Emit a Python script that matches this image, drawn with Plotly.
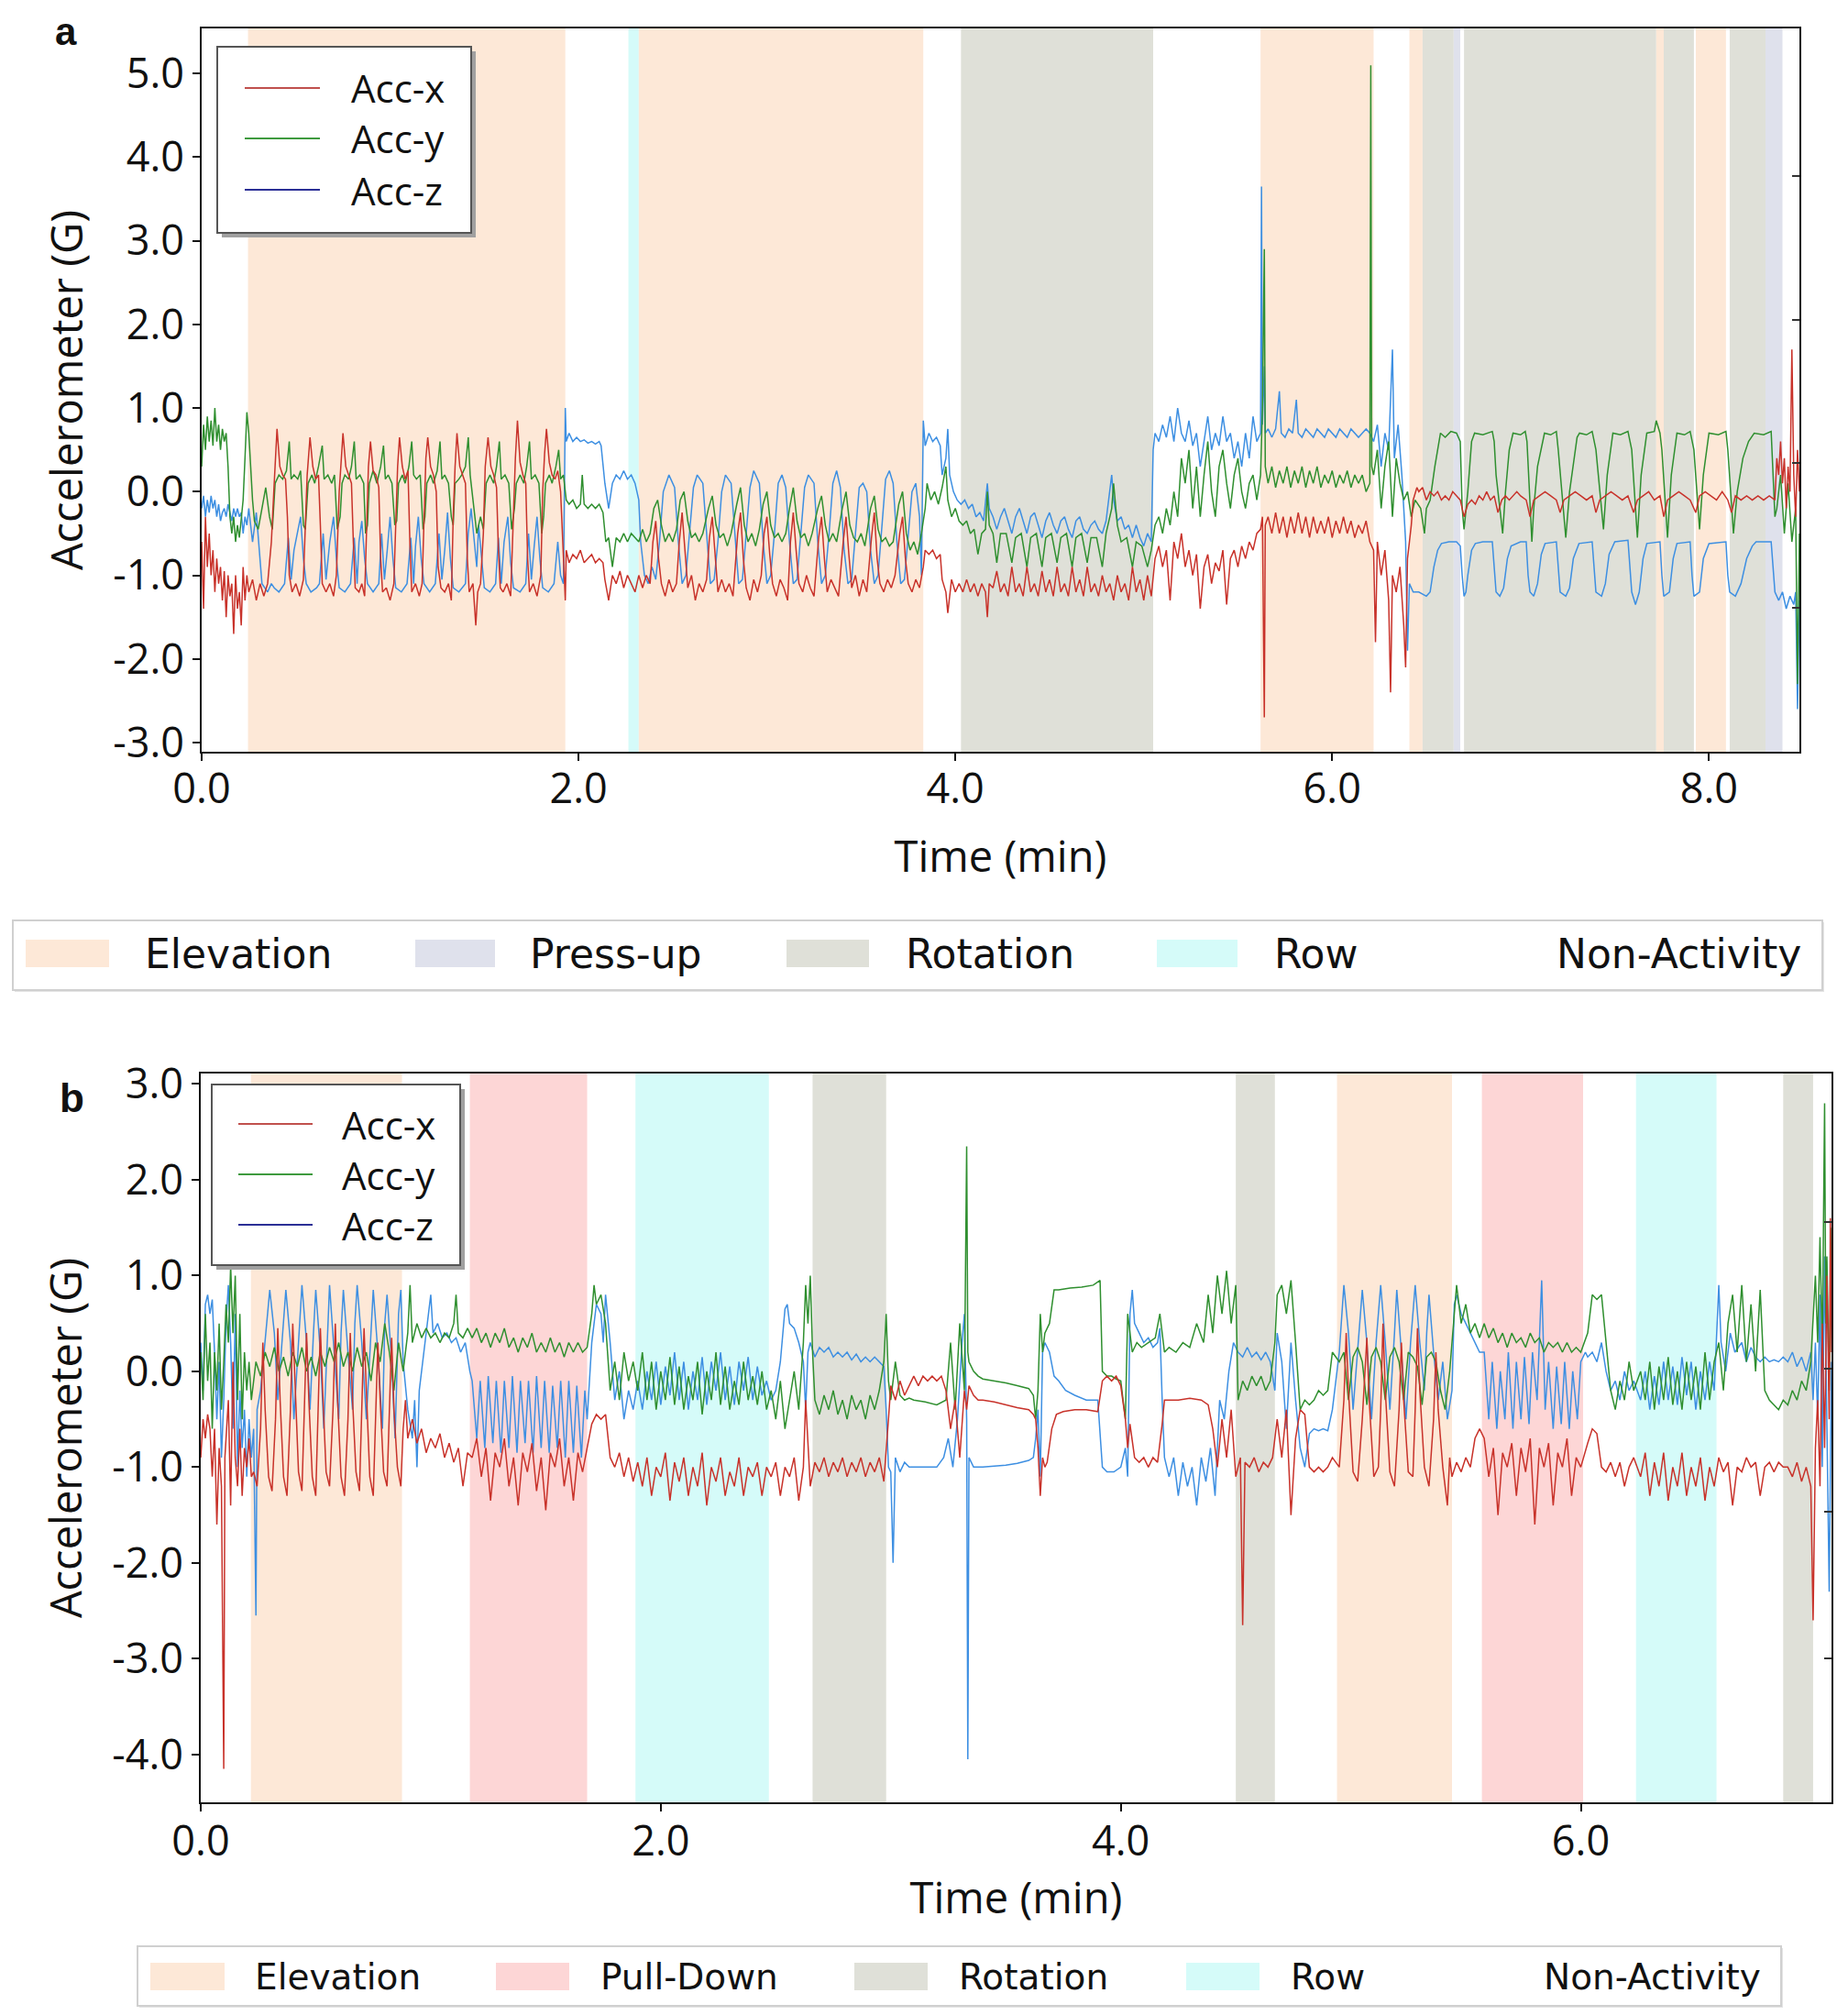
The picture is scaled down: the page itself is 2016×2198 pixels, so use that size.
import plotly.graph_objects as go

W, H = 2016, 2198
OFF = 8                  # default page body margin
FW, FH = W - 2 * OFF, H - 2 * OFF

# ---------------- Panel a data (time in min, acceleration in G) ----------------
A_X = [(0.00,-0.6),(0.01,-1.4),(0.02,-0.3),(0.03,-0.9),(0.04,-0.5),(0.05,-1.0),(0.06,-0.7),(0.07,-1.2),(0.08,-0.8),(0.09,-1.1),
(0.10,-0.9),(0.11,-1.3),(0.12,-0.95),(0.13,-1.5),(0.14,-1.0),(0.15,-1.25),(0.16,-1.1),(0.17,-1.7),(0.18,-1.0),(0.19,-1.4),
(0.20,-1.2),(0.21,-1.6),(0.22,-0.9),(0.23,-1.3),(0.24,-1.0),(0.25,-1.2),(0.27,-1.05),(0.29,-1.3),(0.31,-1.1),(0.33,-1.25),
(0.35,-1.1),(0.37,-0.6),(0.385,0.1),(0.40,0.75),(0.415,0.3),(0.43,0.2),(0.445,0.15),(0.455,-0.3),(0.465,-1.0),(0.48,-1.2),
(0.50,-1.1),(0.52,-1.25),(0.54,-1.05),(0.55,-0.5),(0.56,0.2),(0.575,0.65),(0.59,0.3),(0.605,0.15),(0.62,0.2),(0.63,-0.4),
(0.64,-1.1),(0.66,-1.2),(0.68,-1.1),(0.70,-1.25),(0.715,-1.0),(0.73,0.0),(0.75,0.7),(0.765,0.3),(0.78,0.2),(0.795,0.1),
(0.805,-0.6),(0.815,-1.15),(0.835,-1.2),(0.85,-1.1),(0.865,-1.25),(0.875,-0.4),(0.885,0.3),(0.896,0.6),(0.91,0.25),(0.925,0.2),
(0.94,0.05),(0.95,-0.8),(0.96,-1.2),(0.98,-1.15),(1.00,-1.3),(1.02,-1.1),(1.03,-0.3),(1.04,0.3),(1.05,0.65),(1.065,0.3),
(1.08,0.15),(1.095,0.25),(1.105,-0.6),(1.115,-1.2),(1.135,-1.1),(1.155,-1.25),(1.17,-1.1),(1.18,-0.2),(1.19,0.4),(1.20,0.65),
(1.215,0.3),(1.23,0.2),(1.245,0.0),(1.255,-0.9),(1.27,-1.15),(1.29,-1.2),(1.31,-1.1),(1.325,-1.3),(1.335,-0.3),(1.345,0.3),
(1.355,0.7),(1.37,0.3),(1.385,0.2),(1.40,0.1),(1.41,-0.8),(1.42,-1.2),(1.44,-1.1),(1.455,-1.6),(1.465,-1.2),(1.48,-1.1),
(1.495,-0.5),(1.505,0.3),(1.52,0.65),(1.535,0.3),(1.55,0.2),(1.565,0.05),(1.575,-0.7),(1.585,-1.15),(1.60,-1.2),(1.62,-1.1),
(1.64,-1.25),(1.655,-0.3),(1.665,0.4),(1.676,0.85),(1.69,0.35),(1.705,0.2),(1.72,0.1),(1.73,-0.8),(1.74,-1.2),(1.76,-1.1),
(1.78,-1.25),(1.80,-1.0),(1.81,0.0),(1.82,0.45),(1.83,0.75),(1.845,0.35),(1.86,0.2),(1.875,0.15),(1.89,0.25),(1.905,0.0),
(1.92,-0.9),(1.93,-1.3),(1.935,-0.7),(1.95,-0.85),(1.97,-0.75),(1.99,-0.8),(2.01,-0.7),(2.03,-0.85),(2.05,-0.8),(2.07,-0.75),
(2.09,-0.85),(2.11,-0.8),(2.13,-0.85),(2.14,-1.05),(2.16,-1.3),(2.18,-1.0),(2.20,-1.1),(2.22,-0.95),(2.24,-1.15),(2.26,-1.0),
(2.28,-1.1),(2.30,-1.2),(2.32,-1.0),(2.34,-1.15),(2.36,-1.0),(2.38,-1.1),(2.395,-0.6),(2.41,-0.35),(2.425,-0.8),(2.44,-1.1),
(2.46,-1.25),(2.48,-1.05),(2.50,-1.2),(2.52,-1.1),(2.535,-0.6),(2.55,-0.25),(2.565,-0.7),(2.58,-1.15),(2.60,-1.0),(2.62,-1.3),
(2.64,-1.1),(2.66,-1.2),(2.68,-1.05),(2.695,-0.55),(2.71,-0.3),(2.725,-0.8),(2.74,-1.2),(2.76,-1.05),(2.78,-1.2),(2.80,-1.1),
(2.82,-1.25),(2.845,-0.5),(2.86,-0.25),(2.875,-0.8),(2.89,-1.15),(2.91,-1.3),(2.93,-1.05),(2.95,-1.2),(2.97,-1.0),(2.985,-0.5),
(3.00,-0.3),(3.015,-0.75),(3.03,-1.1),(3.05,-1.25),(3.07,-1.05),(3.09,-1.15),(3.11,-1.3),(3.125,-0.6),(3.14,-0.25),(3.155,-0.7),
(3.17,-1.1),(3.19,-1.2),(3.21,-1.0),(3.23,-1.15),(3.25,-1.25),(3.275,-0.55),(3.29,-0.3),(3.305,-0.8),(3.32,-1.2),(3.34,-1.05),
(3.36,-1.15),(3.38,-1.25),(3.405,-0.6),(3.42,-0.3),(3.435,-0.75),(3.45,-1.15),(3.47,-1.0),(3.49,-1.25),(3.51,-1.05),(3.53,-1.2),
(3.555,-0.55),(3.57,-0.25),(3.585,-0.8),(3.60,-1.1),(3.62,-1.2),(3.64,-1.05),(3.66,-1.15),(3.68,-1.0),(3.705,-0.5),(3.72,-0.3),
(3.735,-0.8),(3.75,-1.1),(3.77,-1.2),(3.79,-1.05),(3.81,-1.15),(3.83,-0.9),(3.84,-0.7),(3.86,-0.75),(3.88,-0.7),(3.90,-0.8),
(3.92,-0.75),(3.93,-1.05),(3.95,-1.2),(3.96,-1.45),(3.98,-1.05),(4.00,-1.2),(4.02,-1.1),(4.04,-1.2),(4.06,-1.05),(4.08,-1.2),
(4.10,-1.1),(4.12,-1.25),(4.14,-1.1),(4.16,-1.2),(4.17,-1.5),(4.18,-1.1),(4.20,-1.15),(4.22,-0.95),(4.24,-1.2),(4.26,-1.1),
(4.28,-1.25),(4.30,-0.9),(4.32,-1.2),(4.34,-1.1),(4.36,-1.25),(4.38,-0.9),(4.40,-1.2),(4.42,-1.1),(4.44,-1.25),(4.46,-0.95),
(4.48,-1.2),(4.50,-1.05),(4.52,-1.25),(4.54,-0.9),(4.56,-1.2),(4.58,-1.1),(4.60,-1.25),(4.62,-0.9),(4.64,-1.2),(4.66,-1.05),
(4.68,-1.25),(4.70,-0.9),(4.72,-1.2),(4.74,-1.1),(4.76,-1.25),(4.78,-1.0),(4.80,-1.2),(4.82,-1.1),(4.84,-1.3),(4.86,-1.0),
(4.88,-1.2),(4.90,-1.1),(4.92,-1.3),(4.94,-0.9),(4.96,-1.2),(4.98,-1.05),(5.00,-1.3),(5.02,-1.0),(5.04,-1.25),(5.06,-0.8),
(5.08,-0.65),(5.10,-0.9),(5.12,-0.7),(5.14,-1.3),(5.16,-0.6),(5.18,-0.8),(5.20,-0.5),(5.22,-0.9),(5.24,-0.7),(5.26,-1.0),
(5.28,-0.75),(5.30,-1.4),(5.32,-0.9),(5.34,-0.75),(5.36,-1.1),(5.38,-0.85),(5.40,-0.95),(5.42,-0.7),(5.44,-1.35),(5.46,-0.8),
(5.48,-0.7),(5.50,-0.9),(5.52,-0.65),(5.54,-0.8),(5.56,-0.6),(5.58,-0.7),(5.60,-0.5),(5.62,-0.45),(5.63,-0.3),(5.64,-2.7),
(5.645,-0.4),(5.66,-0.3),(5.68,-0.5),(5.70,-0.25),(5.72,-0.5),(5.74,-0.3),(5.76,-0.55),(5.78,-0.3),(5.80,-0.5),(5.82,-0.25),
(5.84,-0.5),(5.86,-0.3),(5.88,-0.55),(5.90,-0.3),(5.92,-0.5),(5.94,-0.35),(5.96,-0.5),(5.98,-0.3),(6.00,-0.55),(6.02,-0.35),
(6.04,-0.5),(6.06,-0.3),(6.08,-0.5),(6.10,-0.35),(6.12,-0.55),(6.14,-0.4),(6.16,-0.5),(6.18,-0.35),(6.20,-0.6),(6.22,-0.7),
(6.23,-1.8),(6.24,-0.6),(6.26,-1.0),(6.28,-0.7),(6.30,-1.3),(6.31,-2.4),(6.32,-1.0),(6.34,-1.2),(6.36,-0.9),(6.38,-1.6),
(6.39,-2.1),(6.40,-0.8),(6.42,-0.4),(6.43,-0.1),(6.45,0.05),(6.46,0.0),(6.48,0.05),(6.50,-0.1),(6.52,0.0),(6.54,-0.05),
(6.56,0.0),(6.58,-0.1),(6.60,-0.05),(6.62,-0.1),(6.64,0.0),(6.66,-0.05),(6.68,-0.1),(6.70,-0.3),(6.72,-0.15),(6.74,-0.1),
(6.76,-0.15),(6.78,-0.05),(6.80,-0.1),(6.82,0.0),(6.84,-0.1),(6.86,-0.05),(6.88,-0.25),(6.90,-0.1),(6.92,-0.05),(6.94,-0.1),
(6.96,-0.05),(6.98,0.0),(7.00,-0.05),(7.03,-0.1),(7.05,-0.3),(7.07,-0.1),(7.10,-0.05),(7.13,0.0),(7.16,-0.05),(7.19,-0.1),
(7.21,-0.25),(7.23,-0.1),(7.26,-0.05),(7.29,0.0),(7.32,-0.05),(7.35,-0.1),(7.38,-0.05),(7.40,-0.25),(7.42,-0.1),(7.45,-0.05),
(7.48,0.0),(7.51,-0.05),(7.54,-0.1),(7.57,-0.05),(7.60,-0.25),(7.62,-0.1),(7.65,-0.05),(7.68,0.0),(7.71,-0.1),(7.74,-0.05),
(7.76,-0.3),(7.78,-0.1),(7.81,-0.05),(7.84,0.0),(7.87,-0.05),(7.90,-0.1),(7.93,-0.25),(7.95,-0.05),(7.98,0.0),(8.01,-0.05),
(8.04,-0.1),(8.07,0.0),(8.10,-0.1),(8.12,-0.25),(8.14,-0.05),(8.17,-0.1),(8.20,-0.05),(8.23,-0.1),(8.26,-0.05),(8.29,-0.1),
(8.32,-0.05),(8.35,-0.1),(8.36,0.4),(8.37,0.2),(8.38,0.6),(8.39,0.1),(8.40,0.4),(8.41,-0.2),(8.42,0.3),(8.43,0.0),
(8.44,1.7),(8.45,0.2),(8.46,-0.3),(8.47,0.5),(8.48,0.0)]

A_Y = [(0.00,0.3),(0.01,0.8),(0.02,0.5),(0.03,0.9),(0.04,0.6),(0.05,0.85),(0.06,0.55),(0.07,1.0),(0.08,0.6),(0.09,0.8),
(0.10,0.5),(0.11,0.75),(0.12,0.6),(0.13,0.7),(0.14,0.3),(0.15,-0.3),(0.16,-0.5),(0.17,-0.3),(0.18,-0.6),(0.19,-0.4),
(0.20,-0.55),(0.21,-0.3),(0.22,-0.1),(0.23,0.4),(0.24,0.95),(0.25,0.7),(0.26,0.3),(0.27,-0.1),(0.28,-0.35),(0.30,-0.45),
(0.32,-0.2),(0.34,0.05),(0.36,-0.3),(0.375,-0.45),(0.39,0.1),(0.41,0.2),(0.43,0.15),(0.45,0.25),(0.465,0.6),(0.475,0.15),
(0.49,0.2),(0.51,0.15),(0.525,0.25),(0.54,-0.4),(0.55,-0.45),(0.565,0.1),(0.585,0.2),(0.60,0.1),(0.62,0.3),(0.64,0.55),
(0.65,0.15),(0.67,0.2),(0.69,0.1),(0.705,0.2),(0.72,-0.45),(0.735,-0.3),(0.745,0.1),(0.76,0.2),(0.78,0.15),(0.795,0.3),
(0.81,0.6),(0.82,0.15),(0.84,0.2),(0.86,0.1),(0.87,-0.5),(0.88,-0.4),(0.89,0.1),(0.91,0.25),(0.93,0.1),(0.95,0.3),
(0.965,0.55),(0.975,0.15),(0.99,0.2),(1.01,0.1),(1.025,-0.4),(1.035,-0.35),(1.045,0.1),(1.065,0.2),(1.08,0.1),(1.10,0.3),
(1.115,0.6),(1.125,0.2),(1.14,0.15),(1.16,0.2),(1.175,-0.45),(1.185,-0.3),(1.195,0.1),(1.215,0.2),(1.23,0.1),(1.25,0.25),
(1.265,0.6),(1.275,0.15),(1.29,0.2),(1.31,0.1),(1.325,-0.3),(1.335,-0.4),(1.345,0.1),(1.365,0.15),(1.38,0.2),(1.40,0.3),
(1.415,0.65),(1.425,0.2),(1.44,-0.1),(1.46,-0.5),(1.48,-0.3),(1.495,-0.45),(1.51,0.1),(1.53,0.2),(1.55,0.1),(1.565,0.3),
(1.58,0.6),(1.59,0.15),(1.61,0.2),(1.63,0.1),(1.645,-0.45),(1.66,-0.2),(1.67,0.1),(1.69,0.2),(1.71,0.1),(1.725,0.3),
(1.74,0.6),(1.75,0.15),(1.77,0.2),(1.79,0.1),(1.805,-0.5),(1.815,-0.3),(1.825,0.1),(1.845,0.2),(1.86,0.1),(1.88,0.3),
(1.895,0.5),(1.905,0.15),(1.92,0.2),(1.93,0.0),(1.935,-0.1),(1.95,-0.15),(1.97,-0.1),(1.99,-0.2),(2.01,-0.15),(2.02,0.2),
(2.03,-0.15),(2.05,-0.2),(2.07,-0.15),(2.09,-0.2),(2.11,-0.15),(2.13,-0.25),(2.145,-0.6),(2.16,-0.55),(2.18,-0.9),(2.20,-0.55),
(2.22,-0.6),(2.24,-0.5),(2.26,-0.6),(2.28,-0.5),(2.30,-0.55),(2.32,-0.6),(2.34,-0.45),(2.36,-0.6),(2.38,-0.5),(2.40,-0.2),
(2.42,-0.1),(2.44,-0.4),(2.46,-0.6),(2.48,-0.5),(2.50,-0.6),(2.52,-0.45),(2.54,-0.1),(2.56,0.0),(2.58,-0.35),(2.60,-0.55),
(2.62,-0.5),(2.64,-0.6),(2.66,-0.5),(2.69,-0.2),(2.71,-0.05),(2.73,-0.4),(2.75,-0.55),(2.77,-0.5),(2.79,-0.65),(2.81,-0.5),
(2.84,-0.15),(2.86,0.05),(2.88,-0.4),(2.90,-0.6),(2.92,-0.5),(2.94,-0.65),(2.96,-0.45),(2.98,-0.15),(3.00,0.0),(3.02,-0.4),
(3.04,-0.55),(3.06,-0.5),(3.08,-0.6),(3.10,-0.5),(3.12,-0.2),(3.14,0.05),(3.16,-0.35),(3.18,-0.55),(3.20,-0.5),(3.22,-0.65),
(3.24,-0.5),(3.27,-0.2),(3.29,-0.05),(3.31,-0.4),(3.33,-0.6),(3.35,-0.5),(3.37,-0.6),(3.40,-0.2),(3.42,0.0),(3.44,-0.4),
(3.46,-0.55),(3.48,-0.6),(3.50,-0.5),(3.52,-0.65),(3.55,-0.2),(3.57,-0.05),(3.59,-0.45),(3.61,-0.6),(3.63,-0.55),(3.65,-0.65),
(3.67,-0.6),(3.70,-0.15),(3.72,0.0),(3.74,-0.5),(3.76,-0.7),(3.78,-0.6),(3.80,-0.75),(3.82,-0.5),(3.84,-0.2),(3.85,0.1),
(3.87,-0.1),(3.89,0.0),(3.91,-0.15),(3.93,0.05),(3.95,0.3),(3.96,-0.1),(3.98,-0.3),(4.00,-0.2),(4.02,-0.35),(4.04,-0.4),
(4.06,-0.35),(4.08,-0.5),(4.10,-0.45),(4.12,-0.75),(4.14,-0.5),(4.16,-0.45),(4.17,0.0),(4.18,-0.4),(4.20,-0.5),(4.22,-0.85),
(4.24,-0.5),(4.27,-0.5),(4.30,-0.85),(4.32,-0.55),(4.35,-0.5),(4.38,-0.9),(4.40,-0.55),(4.43,-0.5),(4.46,-0.9),(4.48,-0.55),
(4.51,-0.5),(4.54,-0.85),(4.56,-0.55),(4.59,-0.5),(4.62,-0.9),(4.64,-0.55),(4.67,-0.5),(4.70,-0.85),(4.72,-0.55),(4.75,-0.55),
(4.78,-0.9),(4.80,-0.5),(4.83,-0.2),(4.84,0.1),(4.86,-0.4),(4.88,-0.6),(4.91,-0.55),(4.94,-0.9),(4.96,-0.6),(4.99,-0.65),
(5.02,-0.9),(5.04,-0.7),(5.06,-0.4),(5.08,-0.3),(5.10,-0.5),(5.12,-0.2),(5.14,-0.4),(5.16,0.0),(5.18,-0.3),(5.20,0.4),
(5.22,0.1),(5.24,0.5),(5.26,-0.2),(5.28,0.3),(5.30,-0.3),(5.32,0.2),(5.34,0.6),(5.36,0.0),(5.38,-0.3),(5.40,0.3),
(5.42,0.5),(5.44,0.1),(5.46,-0.2),(5.48,0.2),(5.50,0.4),(5.52,0.0),(5.54,-0.2),(5.56,0.1),(5.58,0.2),(5.60,-0.1),
(5.62,0.2),(5.63,1.0),(5.64,2.9),(5.645,0.3),(5.66,0.1),(5.68,0.3),(5.70,0.05),(5.72,0.25),(5.74,0.1),(5.76,0.3),
(5.78,0.05),(5.80,0.25),(5.82,0.1),(5.84,0.3),(5.86,0.05),(5.88,0.25),(5.90,0.1),(5.92,0.3),(5.94,0.05),(5.96,0.2),
(5.98,0.1),(6.00,0.25),(6.02,0.05),(6.04,0.2),(6.06,0.1),(6.08,0.25),(6.10,0.05),(6.12,0.2),(6.14,0.1),(6.16,0.2),
(6.18,0.0),(6.20,0.1),(6.205,5.1),(6.21,0.3),(6.22,0.2),(6.24,0.5),(6.26,-0.2),(6.28,0.3),(6.30,0.6),(6.32,-0.3),
(6.34,0.4),(6.36,0.1),(6.38,-0.1),(6.40,0.0),(6.42,-0.3),(6.44,-0.1),(6.47,-0.2),(6.49,-0.5),(6.50,-0.2),(6.52,-0.1),
(6.545,0.3),(6.565,0.6),(6.575,0.7),(6.60,0.65),(6.63,0.72),(6.66,0.7),(6.68,0.6),(6.69,-0.2),(6.70,-0.45),(6.72,0.0),
(6.74,0.6),(6.756,0.7),(6.80,0.68),(6.85,0.72),(6.86,0.6),(6.87,0.2),(6.905,-0.5),(6.92,0.0),(6.94,0.5),(6.96,0.7),
(7.00,0.68),(7.025,0.72),(7.034,0.6),(7.045,0.1),(7.06,-0.6),(7.07,-0.2),(7.09,0.3),(7.127,0.7),(7.16,0.68),(7.19,0.72),
(7.20,0.5),(7.24,-0.55),(7.26,0.0),(7.30,0.65),(7.313,0.7),(7.35,0.68),(7.38,0.72),(7.40,0.5),(7.44,-0.45),(7.46,0.2),
(7.49,0.7),(7.53,0.68),(7.57,0.72),(7.59,0.5),(7.62,-0.55),(7.64,0.2),(7.67,0.7),(7.71,0.72),(7.72,0.85),(7.74,0.7),
(7.75,0.5),(7.78,-0.55),(7.80,0.2),(7.83,0.7),(7.87,0.68),(7.90,0.72),(7.92,0.5),(7.95,-0.45),(7.97,0.2),(8.00,0.7),
(8.05,0.68),(8.09,0.72),(8.10,0.5),(8.13,-0.5),(8.15,0.0),(8.18,0.4),(8.21,0.6),(8.24,0.7),(8.29,0.68),(8.33,0.72),
(8.35,-0.3),(8.36,-0.2),(8.38,0.2),(8.40,-0.5),(8.42,0.1),(8.44,-0.6),(8.46,-0.2),(8.47,-2.3),(8.48,-0.5)]

A_Z = [(0.00,-0.2),(0.01,-0.05),(0.02,-0.3),(0.03,-0.1),(0.04,-0.25),(0.05,-0.05),(0.06,-0.2),(0.07,-0.1),(0.08,-0.3),(0.09,-0.15),
(0.10,-0.35),(0.11,-0.25),(0.12,-0.2),(0.13,-0.3),(0.14,-0.15),(0.15,-0.25),(0.16,-0.35),(0.17,-0.2),(0.18,-0.3),(0.19,-0.2),
(0.20,-0.3),(0.21,-0.25),(0.22,-0.5),(0.23,-0.3),(0.24,-0.4),(0.25,-0.2),(0.27,-0.6),(0.29,-0.25),(0.305,-0.7),(0.32,-1.1),
(0.35,-1.2),(0.37,-1.1),(0.385,-1.15),(0.41,-1.2),(0.44,-1.1),(0.46,-0.55),(0.475,-1.05),(0.49,-0.7),(0.525,-0.3),(0.54,-0.8),
(0.555,-1.1),(0.58,-1.2),(0.61,-1.15),(0.625,-1.1),(0.645,-0.5),(0.66,-1.05),(0.68,-0.6),(0.70,-0.3),(0.715,-0.8),(0.73,-1.15),
(0.76,-1.2),(0.79,-1.1),(0.81,-0.55),(0.825,-1.1),(0.835,-0.6),(0.85,-0.35),(0.865,-0.8),(0.88,-1.1),(0.91,-1.2),(0.94,-1.1),
(0.955,-0.5),(0.97,-1.05),(0.985,-0.7),(1.00,-0.3),(1.015,-0.8),(1.03,-1.15),(1.06,-1.2),(1.09,-1.1),(1.11,-0.55),(1.125,-1.1),
(1.135,-0.65),(1.15,-0.3),(1.165,-0.8),(1.18,-1.1),(1.21,-1.2),(1.24,-1.1),(1.26,-0.5),(1.275,-1.05),(1.29,-0.7),(1.305,-0.25),
(1.32,-0.8),(1.335,-1.15),(1.365,-1.2),(1.40,-1.1),(1.415,-0.5),(1.43,-0.2),(1.445,-0.55),(1.46,-0.9),(1.47,-0.4),(1.485,-0.8),
(1.50,-1.15),(1.53,-1.2),(1.56,-1.1),(1.575,-0.55),(1.59,-1.1),(1.605,-0.6),(1.625,-0.3),(1.64,-0.85),(1.655,-1.15),(1.69,-1.2),
(1.72,-1.1),(1.735,-0.5),(1.75,-1.05),(1.765,-0.65),(1.78,-0.3),(1.795,-0.8),(1.81,-1.15),(1.84,-1.2),(1.87,-1.1),(1.89,-0.6),
(1.905,-1.0),(1.92,-1.1),(1.93,1.0),(1.935,0.6),(1.95,0.7),(1.97,0.6),(1.99,0.65),(2.01,0.6),(2.03,0.62),(2.05,0.58),
(2.07,0.6),(2.09,0.57),(2.11,0.6),(2.12,0.55),(2.14,0.1),(2.16,-0.2),(2.18,0.1),(2.20,0.2),(2.22,0.15),(2.24,0.25),
(2.26,0.15),(2.28,0.2),(2.30,0.1),(2.32,-0.1),(2.33,-0.6),(2.35,-1.0),(2.37,-1.1),(2.39,-0.9),(2.41,-1.05),(2.43,-0.6),
(2.45,0.0),(2.48,0.2),(2.51,0.05),(2.53,-0.6),(2.55,-1.1),(2.57,-1.0),(2.59,-0.5),(2.61,0.05),(2.63,0.2),(2.66,0.1),
(2.68,-0.5),(2.70,-1.1),(2.72,-1.05),(2.74,-0.6),(2.76,0.0),(2.78,0.2),(2.81,0.1),(2.83,-0.5),(2.85,-1.1),(2.87,-1.05),
(2.89,-0.5),(2.91,0.05),(2.93,0.25),(2.96,0.1),(2.98,-0.6),(3.00,-1.1),(3.02,-1.0),(3.04,-0.5),(3.06,0.1),(3.08,0.2),
(3.10,0.05),(3.12,-0.6),(3.14,-1.1),(3.16,-1.05),(3.18,-0.5),(3.20,0.05),(3.22,0.2),(3.25,0.1),(3.27,-0.6),(3.29,-1.1),
(3.31,-1.0),(3.33,-0.5),(3.35,0.1),(3.37,0.25),(3.39,0.05),(3.41,-0.7),(3.43,-1.1),(3.45,-1.05),(3.47,-0.5),(3.49,0.05),
(3.51,0.1),(3.53,0.0),(3.55,-0.7),(3.57,-1.1),(3.59,-1.0),(3.61,-0.4),(3.63,0.15),(3.65,0.25),(3.67,0.1),(3.69,-0.6),
(3.71,-1.1),(3.73,-1.05),(3.75,-0.5),(3.77,0.0),(3.79,0.1),(3.81,-0.3),(3.82,-1.0),(3.83,0.85),(3.84,0.55),(3.86,0.7),
(3.88,0.6),(3.90,0.65),(3.92,0.55),(3.93,0.2),(3.95,0.4),(3.96,0.75),(3.97,0.2),(3.99,0.0),(4.01,-0.1),(4.03,-0.15),
(4.05,-0.1),(4.07,-0.2),(4.09,-0.15),(4.11,-0.3),(4.13,-0.25),(4.15,-0.35),(4.17,0.1),(4.18,-0.2),(4.20,-0.3),(4.22,-0.45),
(4.24,-0.3),(4.26,-0.2),(4.28,-0.35),(4.30,-0.5),(4.32,-0.3),(4.34,-0.2),(4.36,-0.35),(4.38,-0.5),(4.40,-0.3),(4.42,-0.25),
(4.44,-0.4),(4.46,-0.55),(4.48,-0.35),(4.50,-0.25),(4.52,-0.4),(4.54,-0.5),(4.56,-0.35),(4.58,-0.3),(4.60,-0.45),(4.62,-0.55),
(4.64,-0.35),(4.66,-0.3),(4.68,-0.45),(4.70,-0.5),(4.72,-0.4),(4.74,-0.35),(4.76,-0.45),(4.78,-0.5),(4.80,-0.35),(4.82,0.0),
(4.83,0.2),(4.84,-0.1),(4.86,-0.35),(4.88,-0.3),(4.90,-0.45),(4.92,-0.4),(4.94,-0.55),(4.96,-0.4),(4.98,-0.55),(5.00,-0.65),
(5.02,-0.5),(5.04,-0.6),(5.05,0.5),(5.06,0.7),(5.08,0.6),(5.10,0.8),(5.12,0.65),(5.14,0.9),(5.16,0.6),(5.18,1.0),
(5.20,0.7),(5.22,0.6),(5.24,0.85),(5.26,0.55),(5.28,0.7),(5.30,0.3),(5.32,0.6),(5.34,0.9),(5.36,0.5),(5.38,0.7),
(5.40,0.55),(5.42,0.9),(5.44,0.6),(5.46,0.7),(5.48,0.4),(5.50,0.6),(5.52,0.3),(5.54,0.7),(5.56,0.4),(5.58,0.9),
(5.60,0.6),(5.62,0.7),(5.625,3.65),(5.63,0.8),(5.64,1.5),(5.645,0.7),(5.66,0.75),(5.68,0.65),(5.70,0.75),(5.72,1.2),
(5.73,0.7),(5.75,0.65),(5.77,0.75),(5.79,0.7),(5.81,1.1),(5.82,0.7),(5.84,0.65),(5.86,0.75),(5.88,0.7),(5.90,0.65),
(5.92,0.75),(5.94,0.7),(5.96,0.65),(5.98,0.75),(6.00,0.7),(6.02,0.65),(6.04,0.75),(6.06,0.7),(6.08,0.65),(6.10,0.75),
(6.12,0.7),(6.14,0.65),(6.16,0.7),(6.18,0.75),(6.20,0.7),(6.22,0.6),(6.24,0.8),(6.26,0.3),(6.28,0.7),(6.30,0.5),
(6.32,1.7),(6.33,0.4),(6.35,0.8),(6.37,0.2),(6.39,-0.6),(6.40,-1.9),(6.41,-1.1),(6.43,-1.2),(6.45,-1.2),(6.46,-1.2),
(6.50,-1.25),(6.52,-1.2),(6.54,-0.9),(6.56,-0.7),(6.58,-0.62),(6.62,-0.6),(6.66,-0.6),(6.68,-0.65),(6.69,-1.0),(6.70,-1.25),
(6.71,-1.2),(6.72,-1.0),(6.74,-0.7),(6.76,-0.62),(6.80,-0.6),(6.85,-0.6),(6.86,-0.9),(6.87,-1.2),(6.89,-1.25),(6.91,-1.15),
(6.93,-0.8),(6.95,-0.65),(7.00,-0.6),(7.03,-0.6),(7.04,-1.0),(7.05,-1.2),(7.07,-1.25),(7.09,-1.1),(7.11,-0.75),(7.13,-0.62),
(7.19,-0.6),(7.20,-0.9),(7.21,-1.2),(7.24,-1.25),(7.26,-1.15),(7.28,-0.8),(7.31,-0.62),(7.38,-0.6),(7.39,-0.95),(7.40,-1.2),
(7.43,-1.25),(7.45,-1.1),(7.47,-0.75),(7.50,-0.6),(7.57,-0.58),(7.58,-0.95),(7.59,-1.2),(7.61,-1.35),(7.63,-1.2),(7.65,-0.8),
(7.67,-0.62),(7.74,-0.6),(7.75,-1.0),(7.76,-1.25),(7.79,-1.2),(7.81,-0.8),(7.83,-0.62),(7.90,-0.6),(7.91,-1.0),(7.92,-1.25),
(7.95,-1.2),(7.97,-0.8),(8.00,-0.62),(8.09,-0.6),(8.10,-1.0),(8.11,-1.2),(8.14,-1.25),(8.17,-1.1),(8.20,-0.8),(8.23,-0.65),
(8.25,-0.6),(8.33,-0.6),(8.34,-0.9),(8.35,-1.2),(8.37,-1.3),(8.39,-1.2),(8.41,-1.4),(8.43,-1.25),(8.45,-1.35),(8.46,-1.2),
(8.47,-2.6),(8.48,-1.3)]

# activity periods, panel a
A_ACT_START = [0.246, 2.265, 2.32, 4.03, 5.62, 6.41, 6.48, 6.645, 6.70, 7.72, 7.76, 7.93, 8.11, 8.30]
A_ACT_END   = [1.93, 2.32, 3.83, 5.05, 6.22, 6.48, 6.645, 6.68, 7.72, 7.76, 7.92, 8.09, 8.30, 8.39]
A_ACT_LABEL = ["Elevation", "Row", "Elevation", "Rotation", "Elevation", "Elevation", "Rotation", "Press-up",
               "Rotation", "Elevation", "Rotation", "Elevation", "Rotation", "Press-up"]

# ---------------- Panel b data ----------------
B_X = [(0.00,-0.9),(0.01,-0.5),(0.02,-0.7),(0.03,-0.45),(0.04,-0.6),(0.05,-1.1),(0.06,-0.6),(0.07,-1.6),(0.08,-0.8),(0.09,-1.2),
(0.10,-4.15),(0.105,-0.9),(0.12,-0.3),(0.13,-1.4),(0.14,0.1),(0.15,-0.9),(0.16,-1.2),(0.17,-0.6),(0.18,-1.3),(0.19,-0.8),
(0.20,-1.0),(0.21,-0.7),(0.22,-1.1),(0.23,-1.05),(0.245,-1.2),(0.26,-0.6),(0.27,0.3),(0.28,-0.4),(0.295,-1.1),(0.31,-1.25),
(0.325,-0.5),(0.335,0.45),(0.345,-0.3),(0.36,-1.1),(0.375,-1.3),(0.39,-0.4),(0.40,0.5),(0.41,-0.2),(0.425,-1.05),(0.44,-1.25),
(0.45,-0.5),(0.46,0.4),(0.47,-0.3),(0.485,-1.1),(0.50,-1.3),(0.51,-0.5),(0.52,0.45),(0.53,-0.2),(0.545,-1.05),(0.56,-1.2),
(0.575,-0.4),(0.585,0.5),(0.595,-0.3),(0.61,-1.1),(0.625,-1.3),(0.64,-0.5),(0.65,0.4),(0.66,-0.3),(0.675,-1.05),(0.69,-1.25),
(0.70,-0.4),(0.71,0.45),(0.72,-0.2),(0.735,-1.1),(0.75,-1.3),(0.76,-0.5),(0.77,0.3),(0.78,-0.3),(0.795,-1.05),(0.81,-1.2),
(0.82,-0.4),(0.83,0.35),(0.84,-0.4),(0.855,-1.0),(0.87,-1.2),(0.88,-0.6),(0.89,-0.3),(0.90,-0.7),(0.92,-0.5),(0.94,-0.75),
(0.96,-0.6),(0.98,-0.85),(1.00,-0.7),(1.02,-0.8),(1.04,-0.65),(1.06,-0.9),(1.08,-0.75),(1.10,-0.95),(1.12,-0.8),(1.14,-1.2),
(1.16,-0.85),(1.18,-0.9),(1.20,-0.7),(1.22,-1.1),(1.24,-0.8),(1.26,-1.35),(1.28,-0.85),(1.30,-1.0),(1.32,-0.7),(1.34,-1.2),
(1.36,-0.9),(1.38,-1.4),(1.40,-0.85),(1.42,-1.05),(1.44,-0.75),(1.46,-1.25),(1.48,-0.9),(1.50,-1.45),(1.52,-0.85),(1.54,-1.0),
(1.56,-0.7),(1.58,-1.2),(1.60,-0.9),(1.62,-1.35),(1.64,-0.85),(1.66,-1.05),(1.68,-0.8),(1.70,-0.55),(1.72,-0.45),(1.74,-0.5),
(1.76,-0.45),(1.78,-0.9),(1.80,-1.0),(1.82,-0.85),(1.84,-1.1),(1.86,-0.9),(1.88,-1.15),(1.90,-0.95),(1.92,-1.2),(1.94,-0.9),
(1.96,-1.3),(1.98,-1.0),(2.00,-1.1),(2.02,-0.85),(2.04,-1.35),(2.06,-0.95),(2.08,-1.15),(2.10,-0.9),(2.12,-1.3),(2.14,-1.0),
(2.16,-1.2),(2.18,-0.85),(2.20,-1.4),(2.22,-1.0),(2.24,-1.15),(2.26,-0.9),(2.28,-1.3),(2.30,-1.05),(2.32,-1.2),(2.34,-0.9),
(2.36,-1.3),(2.38,-1.0),(2.40,-1.1),(2.42,-0.95),(2.44,-1.3),(2.46,-1.0),(2.48,-1.1),(2.50,-0.95),(2.52,-1.3),(2.54,-1.0),
(2.56,-1.1),(2.58,-0.9),(2.60,-1.35),(2.62,-1.0),(2.63,-0.3),(2.64,-0.7),(2.65,-1.2),(2.67,-0.95),(2.69,-1.05),(2.71,-0.9),
(2.73,-1.1),(2.75,-0.95),(2.77,-1.05),(2.79,-0.9),(2.81,-1.1),(2.83,-0.95),(2.85,-1.05),(2.87,-0.9),(2.89,-1.1),(2.91,-0.95),
(2.93,-1.05),(2.95,-0.9),(2.97,-1.15),(2.99,-0.5),(3.00,-0.15),(3.02,-0.3),(3.04,-0.1),(3.06,-0.25),(3.08,-0.15),(3.10,-0.05),
(3.12,-0.15),(3.14,-0.05),(3.16,-0.1),(3.18,-0.05),(3.20,-0.1),(3.22,-0.05),(3.24,-0.2),(3.26,-0.6),(3.28,-0.3),(3.30,-0.9),
(3.32,-0.2),(3.33,-0.4),(3.34,-0.15),(3.36,-0.25),(3.38,-0.3),(3.40,-0.3),(3.45,-0.32),(3.50,-0.35),(3.55,-0.38),(3.60,-0.4),
(3.62,-0.45),(3.63,-0.5),(3.64,-0.8),(3.65,-1.3),(3.66,-0.9),(3.67,-1.0),(3.68,-0.95),(3.70,-0.6),(3.72,-0.45),(3.75,-0.42),
(3.80,-0.4),(3.85,-0.4),(3.90,-0.42),(3.92,-0.1),(3.94,-0.05),(3.96,-0.1),(3.98,-0.05),(4.00,-0.15),(4.02,-0.5),(4.03,-0.8),
(4.04,-0.55),(4.06,-0.9),(4.08,-0.95),(4.10,-0.9),(4.12,-1.0),(4.14,-0.9),(4.16,-0.95),(4.18,-0.55),(4.19,-0.3),(4.20,-0.3),
(4.25,-0.3),(4.30,-0.28),(4.35,-0.3),(4.38,-0.35),(4.40,-0.6),(4.42,-1.0),(4.44,-0.5),(4.46,-0.9),(4.48,-0.4),(4.50,-1.1),
(4.52,-0.9),(4.53,-2.65),(4.54,-0.95),(4.56,-1.0),(4.58,-0.9),(4.60,-1.05),(4.62,-0.95),(4.64,-1.0),(4.66,-0.9),(4.68,-0.5),
(4.70,-0.9),(4.72,-0.4),(4.74,-1.5),(4.76,-0.7),(4.78,-0.4),(4.80,-0.45),(4.82,-1.0),(4.84,-1.05),(4.86,-1.0),(4.88,-1.05),
(4.90,-1.0),(4.92,-0.9),(4.95,-1.0),(4.97,-0.3),(4.98,0.4),(4.99,-0.2),(5.01,-1.05),(5.03,-1.15),(5.05,-0.5),(5.07,0.35),
(5.08,-0.3),(5.10,-1.1),(5.12,-1.0),(5.13,-0.4),(5.14,0.5),(5.15,-0.2),(5.17,-1.05),(5.19,-1.2),(5.21,-0.4),(5.22,0.3),
(5.23,-0.3),(5.25,-1.05),(5.27,-1.1),(5.28,-0.4),(5.29,0.45),(5.30,-0.2),(5.32,-1.0),(5.34,-1.2),(5.36,-0.5),(5.37,0.2),
(5.38,-0.4),(5.40,-1.0),(5.42,-1.4),(5.43,-0.9),(5.44,-1.1),(5.46,-0.95),(5.48,-1.05),(5.50,-0.9),(5.52,-1.0),(5.54,-0.7),
(5.56,-0.6),(5.58,-0.7),(5.60,-1.1),(5.62,-0.8),(5.64,-1.5),(5.66,-0.85),(5.68,-1.0),(5.70,-0.75),(5.72,-1.3),(5.74,-0.8),
(5.76,-1.05),(5.78,-0.7),(5.80,-1.6),(5.82,-0.8),(5.84,-1.0),(5.86,-0.75),(5.88,-1.4),(5.90,-0.85),(5.92,-1.0),(5.94,-0.7),
(5.96,-1.3),(5.98,-0.9),(6.00,-1.0),(6.03,-0.75),(6.05,-0.6),(6.07,-0.65),(6.09,-1.0),(6.11,-1.05),(6.13,-0.95),(6.15,-1.1),
(6.17,-0.95),(6.19,-1.2),(6.21,-1.0),(6.23,-0.9),(6.26,-1.1),(6.28,-0.85),(6.30,-1.3),(6.32,-0.95),(6.34,-1.2),(6.36,-0.85),
(6.38,-1.35),(6.40,-1.0),(6.42,-1.2),(6.44,-0.85),(6.46,-1.3),(6.48,-1.0),(6.50,-1.2),(6.52,-0.9),(6.54,-1.35),(6.56,-1.0),
(6.58,-1.2),(6.60,-0.9),(6.62,-1.05),(6.64,-0.95),(6.66,-1.4),(6.68,-1.0),(6.70,-1.05),(6.72,-0.9),(6.74,-1.0),(6.76,-0.95),
(6.78,-1.3),(6.80,-1.0),(6.82,-0.95),(6.84,-1.05),(6.86,-0.95),(6.88,-1.0),(6.90,-1.0),(6.92,-1.1),(6.94,-0.95),(6.96,-1.15),
(6.98,-1.0),(7.00,-1.2),(7.01,-2.6),(7.02,-0.8),(7.03,-0.3),(7.04,-1.2),(7.05,0.5),(7.06,-0.8),(7.07,1.0),(7.08,-0.5),
(7.085,1.6),(7.09,0.2)]

B_Y = [(0.00,0.2),(0.01,-0.3),(0.02,0.6),(0.03,-0.1),(0.04,0.3),(0.05,-0.6),(0.06,0.2),(0.07,-0.2),(0.08,0.5),(0.09,-0.4),
(0.10,0.1),(0.11,0.7),(0.12,0.3),(0.13,1.1),(0.14,0.4),(0.15,1.0),(0.16,-0.3),(0.17,0.6),(0.18,-0.5),(0.19,0.2),
(0.20,-0.2),(0.21,0.1),(0.22,-0.3),(0.24,0.1),(0.26,-0.05),(0.28,0.2),(0.30,0.05),(0.32,0.25),(0.34,0.0),(0.36,0.15),
(0.38,-0.05),(0.40,0.2),(0.42,0.05),(0.44,0.25),(0.46,0.0),(0.48,0.15),(0.50,-0.05),(0.52,0.2),(0.54,0.05),(0.56,0.25),
(0.58,0.1),(0.60,0.3),(0.62,0.05),(0.64,0.2),(0.66,0.0),(0.68,0.25),(0.70,0.05),(0.72,0.2),(0.74,-0.1),(0.76,0.3),
(0.78,0.1),(0.80,0.5),(0.82,0.2),(0.84,-0.2),(0.86,0.3),(0.88,0.0),(0.90,0.4),(0.91,0.9),(0.92,0.3),(0.94,0.5),
(0.96,0.35),(0.98,0.45),(1.00,0.35),(1.02,0.4),(1.04,0.3),(1.06,0.4),(1.08,0.35),(1.10,0.5),(1.11,0.8),(1.12,0.4),
(1.14,0.35),(1.16,0.45),(1.18,0.35),(1.20,0.45),(1.22,0.3),(1.24,0.4),(1.26,0.25),(1.28,0.4),(1.30,0.3),(1.32,0.45),
(1.34,0.25),(1.36,0.35),(1.38,0.2),(1.40,0.35),(1.42,0.25),(1.44,0.4),(1.46,0.2),(1.48,0.3),(1.50,0.2),(1.52,0.35),
(1.54,0.2),(1.56,0.3),(1.58,0.15),(1.60,0.3),(1.62,0.2),(1.64,0.3),(1.66,0.2),(1.68,0.25),(1.70,0.6),(1.71,0.9),
(1.72,0.7),(1.74,0.8),(1.76,0.5),(1.78,-0.2),(1.80,0.1),(1.82,-0.3),(1.84,0.2),(1.86,-0.1),(1.88,0.1),(1.90,-0.2),
(1.92,0.2),(1.94,-0.3),(1.96,0.1),(1.98,-0.4),(2.00,0.0),(2.02,-0.3),(2.04,0.15),(2.06,-0.35),(2.08,0.05),(2.10,-0.4),
(2.12,-0.05),(2.14,-0.3),(2.16,0.1),(2.18,-0.45),(2.20,0.0),(2.22,-0.3),(2.24,0.2),(2.26,-0.35),(2.28,0.05),(2.30,-0.4),
(2.32,-0.1),(2.34,-0.35),(2.36,0.1),(2.38,-0.3),(2.40,-0.05),(2.42,-0.35),(2.44,0.0),(2.46,-0.4),(2.48,-0.2),(2.50,-0.5),
(2.52,-0.1),(2.54,-0.6),(2.56,-0.3),(2.58,0.0),(2.60,-0.4),(2.62,0.3),(2.63,0.9),(2.64,0.5),(2.65,1.0),(2.66,0.2),
(2.67,-0.3),(2.69,-0.45),(2.71,-0.25),(2.73,-0.4),(2.75,-0.2),(2.77,-0.45),(2.79,-0.3),(2.81,-0.5),(2.83,-0.25),(2.85,-0.4),
(2.87,-0.3),(2.89,-0.5),(2.91,-0.25),(2.93,-0.4),(2.95,-0.2),(2.97,0.1),(2.98,0.6),(2.99,-0.1),(3.00,-0.3),(3.02,0.1),
(3.04,-0.25),(3.06,-0.3),(3.08,-0.28),(3.10,-0.3),(3.15,-0.32),(3.20,-0.35),(3.24,-0.3),(3.26,0.3),(3.28,-0.4),(3.30,0.5),
(3.32,-0.2),(3.33,2.35),(3.335,0.2),(3.34,0.1),(3.36,0.0),(3.38,-0.05),(3.40,-0.08),(3.45,-0.1),(3.50,-0.12),(3.55,-0.15),
(3.60,-0.18),(3.62,-0.25),(3.63,-0.5),(3.64,-0.2),(3.65,0.6),(3.66,0.2),(3.67,0.4),(3.69,0.5),(3.71,0.85),(3.73,0.85),
(3.78,0.87),(3.83,0.88),(3.88,0.9),(3.91,0.95),(3.92,0.0),(3.94,-0.05),(3.96,-0.05),(3.98,-0.08),(4.00,-0.1),(4.02,-0.5),
(4.03,0.6),(4.05,0.2),(4.07,0.3),(4.09,0.25),(4.12,0.3),(4.15,0.35),(4.17,0.6),(4.19,0.2),(4.21,0.25),(4.24,0.2),
(4.27,0.3),(4.30,0.25),(4.33,0.5),(4.36,0.3),(4.38,0.8),(4.40,0.4),(4.42,1.0),(4.44,0.6),(4.46,1.05),(4.48,0.5),
(4.50,0.9),(4.51,-0.3),(4.53,-0.1),(4.55,-0.2),(4.57,-0.05),(4.59,-0.15),(4.61,-0.05),(4.63,-0.2),(4.65,-0.1),(4.67,0.3),
(4.68,0.8),(4.70,0.9),(4.72,0.6),(4.74,0.95),(4.76,0.3),(4.78,-0.4),(4.80,-0.3),(4.82,-0.35),(4.84,-0.3),(4.86,-0.2),
(4.88,-0.25),(4.90,-0.2),(4.92,0.2),(4.95,0.1),(4.97,0.2),(4.99,-0.3),(5.01,0.15),(5.03,0.25),(5.05,0.1),(5.07,-0.35),
(5.09,0.15),(5.11,0.25),(5.13,0.1),(5.15,-0.3),(5.17,0.15),(5.19,0.25),(5.21,0.1),(5.23,-0.3),(5.25,0.2),(5.27,0.15),
(5.29,0.05),(5.31,-0.35),(5.33,0.15),(5.35,0.2),(5.37,0.1),(5.39,-0.2),(5.41,-0.4),(5.43,0.0),(5.45,0.6),(5.46,0.9),
(5.48,0.5),(5.50,0.7),(5.52,0.4),(5.54,0.5),(5.56,0.35),(5.58,0.5),(5.60,0.35),(5.62,0.45),(5.64,0.3),(5.66,0.4),
(5.68,0.25),(5.70,0.4),(5.72,0.3),(5.74,0.35),(5.76,0.25),(5.78,0.4),(5.80,0.3),(5.82,0.35),(5.84,0.2),(5.86,0.3),
(5.88,0.25),(5.90,0.3),(5.92,0.2),(5.94,0.3),(5.96,0.2),(5.98,0.25),(6.00,0.2),(6.03,0.4),(6.05,0.8),(6.07,0.75),
(6.09,0.8),(6.11,0.3),(6.13,-0.2),(6.15,-0.4),(6.17,-0.1),(6.19,-0.3),(6.21,0.1),(6.23,-0.2),(6.26,0.0),(6.28,-0.3),
(6.30,0.1),(6.32,-0.4),(6.34,0.05),(6.36,-0.3),(6.38,0.15),(6.40,-0.35),(6.42,0.0),(6.44,-0.4),(6.46,0.1),(6.48,-0.3),
(6.50,0.05),(6.52,-0.4),(6.54,0.2),(6.56,-0.3),(6.58,0.1),(6.60,0.3),(6.62,-0.2),(6.64,0.5),(6.66,0.8),(6.68,0.2),
(6.70,0.9),(6.72,0.1),(6.74,0.7),(6.76,0.0),(6.78,0.85),(6.80,-0.2),(6.82,-0.3),(6.84,-0.35),(6.86,-0.4),(6.88,-0.3),
(6.90,-0.35),(6.92,-0.2),(6.94,-0.3),(6.96,-0.1),(6.98,-0.2),(7.00,0.1),(7.01,0.5),(7.02,1.0),(7.03,0.3),(7.04,1.4),
(7.05,0.2),(7.06,2.8),(7.065,0.5),(7.07,1.2),(7.08,-0.2),(7.09,1.5)]

B_Z = [(0.00,0.3),(0.01,-0.2),(0.02,0.7),(0.03,0.8),(0.04,0.6),(0.05,0.75),(0.06,0.2),(0.07,-0.5),(0.08,0.1),(0.09,-0.9),
(0.10,-0.3),(0.11,0.5),(0.12,0.9),(0.13,0.3),(0.14,-0.6),(0.15,0.6),(0.16,-1.0),(0.17,-0.2),(0.18,-0.8),(0.19,-0.4),
(0.20,-1.1),(0.21,-0.5),(0.22,-0.9),(0.23,-0.6),(0.24,-2.55),(0.245,-0.4),(0.26,-0.2),(0.28,0.3),(0.30,0.85),(0.32,0.4),
(0.335,-0.3),(0.35,0.2),(0.37,0.85),(0.39,0.3),(0.405,-0.5),(0.42,0.1),(0.44,0.9),(0.46,0.3),(0.475,-0.4),(0.49,0.4),
(0.50,0.85),(0.52,0.2),(0.535,-0.6),(0.55,0.3),(0.56,0.9),(0.58,0.2),(0.60,-0.5),(0.61,0.4),(0.62,0.85),(0.64,0.2),
(0.66,-0.4),(0.67,0.5),(0.68,0.9),(0.70,0.3),(0.72,-0.5),(0.74,0.4),(0.75,0.85),(0.77,0.2),(0.79,-0.6),(0.80,0.5),
(0.81,0.8),(0.83,0.1),(0.845,-0.7),(0.86,0.6),(0.87,0.85),(0.88,0.1),(0.90,-0.4),(0.92,-0.7),(0.93,-0.3),(0.94,-1.0),
(0.95,-0.2),(0.97,0.2),(0.99,0.6),(1.00,0.8),(1.01,0.4),(1.03,0.5),(1.05,0.35),(1.07,0.4),(1.09,0.3),(1.11,0.35),
(1.13,0.2),(1.15,0.3),(1.17,0.0),(1.18,-0.1),(1.20,-0.7),(1.215,-0.1),(1.235,-0.8),(1.25,-0.05),(1.27,-0.75),(1.285,-0.1),
(1.305,-0.85),(1.32,-0.1),(1.34,-0.8),(1.355,-0.05),(1.375,-0.85),(1.39,-0.1),(1.41,-0.75),(1.425,-0.1),(1.445,-0.85),(1.46,-0.05),
(1.48,-0.8),(1.495,-0.1),(1.515,-0.85),(1.53,-0.15),(1.55,-0.8),(1.565,-0.1),(1.585,-0.9),(1.60,-0.1),(1.62,-0.85),(1.635,-0.15),
(1.655,-0.9),(1.67,-0.2),(1.68,-0.5),(1.70,0.3),(1.72,0.7),(1.74,0.6),(1.75,0.3),(1.76,0.8),(1.78,0.3),(1.80,-0.3),
(1.82,0.0),(1.84,-0.5),(1.86,-0.2),(1.88,-0.4),(1.90,-0.1),(1.92,-0.4),(1.94,0.0),(1.96,-0.3),(1.98,0.1),(2.00,-0.35),
(2.02,0.05),(2.04,-0.25),(2.06,0.2),(2.08,-0.3),(2.10,0.1),(2.12,-0.4),(2.14,0.0),(2.16,-0.3),(2.18,0.15),(2.20,-0.35),
(2.22,0.1),(2.24,-0.2),(2.26,0.2),(2.28,-0.3),(2.30,0.05),(2.32,-0.35),(2.34,0.1),(2.36,-0.2),(2.38,0.15),(2.40,-0.3),
(2.42,0.05),(2.44,-0.25),(2.46,-0.1),(2.48,-0.3),(2.50,-0.2),(2.52,0.1),(2.54,0.65),(2.55,0.7),(2.56,0.5),(2.58,0.45),
(2.60,0.3),(2.62,0.1),(2.63,-0.4),(2.64,0.2),(2.65,0.3),(2.67,0.15),(2.69,0.25),(2.71,0.2),(2.73,0.25),(2.75,0.15),
(2.77,0.2),(2.79,0.15),(2.81,0.2),(2.83,0.12),(2.85,0.18),(2.87,0.1),(2.89,0.15),(2.91,0.1),(2.93,0.15),(2.95,0.1),
(2.97,0.05),(2.98,-0.4),(2.99,-1.0),(3.00,-1.05),(3.01,-2.0),(3.02,-0.9),(3.04,-1.05),(3.06,-0.95),(3.08,-1.0),(3.12,-1.0),
(3.16,-1.0),(3.20,-1.0),(3.23,-0.9),(3.25,-0.7),(3.27,-1.0),(3.29,-0.5),(3.31,0.3),(3.32,0.6),(3.33,-0.5),(3.335,-4.05),
(3.34,-0.9),(3.36,-1.0),(3.40,-1.0),(3.45,-0.99),(3.50,-0.98),(3.55,-0.96),(3.60,-0.93),(3.62,-0.9),(3.63,-0.7),(3.64,-0.4),
(3.65,-1.1),(3.66,0.2),(3.67,0.3),(3.69,0.2),(3.71,-0.05),(3.73,-0.1),(3.76,-0.2),(3.80,-0.25),(3.85,-0.3),(3.90,-0.3),
(3.92,-1.0),(3.94,-1.05),(3.97,-1.05),(4.00,-1.0),(4.02,-0.8),(4.03,-1.1),(4.04,0.6),(4.05,0.85),(4.06,0.5),(4.08,0.4),
(4.10,0.3),(4.12,0.35),(4.14,0.25),(4.16,0.3),(4.17,0.45),(4.18,-0.3),(4.19,-0.9),(4.21,-1.1),(4.23,-0.9),(4.25,-1.3),
(4.27,-0.95),(4.29,-1.2),(4.31,-1.0),(4.33,-1.4),(4.35,-0.9),(4.37,-1.15),(4.39,-0.8),(4.41,-1.3),(4.43,-0.3),(4.45,-0.5),
(4.47,0.0),(4.49,0.3),(4.51,0.2),(4.53,0.15),(4.55,0.25),(4.57,0.15),(4.59,0.2),(4.61,0.12),(4.63,0.2),(4.65,0.1),
(4.67,-0.2),(4.68,0.4),(4.70,0.1),(4.72,-0.6),(4.74,0.3),(4.76,-0.3),(4.78,-0.8),(4.80,-1.0),(4.82,-0.65),(4.84,-0.6),
(4.86,-0.62),(4.88,-0.6),(4.90,-0.62),(4.92,-0.4),(4.95,0.2),(4.97,0.9),(4.99,0.4),(5.01,-0.4),(5.03,0.2),(5.05,0.85),
(5.07,0.3),(5.09,-0.5),(5.11,0.3),(5.13,0.9),(5.15,0.3),(5.17,-0.4),(5.19,0.4),(5.20,0.85),(5.22,0.2),(5.24,-0.5),
(5.26,0.3),(5.28,0.9),(5.30,0.3),(5.32,-0.2),(5.33,0.4),(5.34,0.8),(5.36,0.2),(5.38,-0.3),(5.40,0.1),(5.42,-0.5),
(5.44,-0.2),(5.45,0.7),(5.46,0.8),(5.48,0.6),(5.50,0.5),(5.52,0.4),(5.54,0.3),(5.56,0.2),(5.58,0.2),(5.60,-0.5),
(5.615,0.1),(5.635,-0.6),(5.65,0.0),(5.67,-0.5),(5.685,0.2),(5.705,-0.6),(5.72,0.1),(5.74,-0.5),(5.755,0.15),(5.775,-0.55),
(5.79,0.2),(5.81,-0.3),(5.83,0.95),(5.845,-0.4),(5.86,0.1),(5.88,-0.6),(5.895,0.05),(5.915,-0.55),(5.93,0.1),(5.95,-0.6),
(5.965,0.0),(5.985,-0.5),(6.00,0.1),(6.02,0.2),(6.03,0.15),(6.05,0.2),(6.07,0.1),(6.09,0.3),(6.11,0.0),(6.13,-0.2),
(6.15,-0.1),(6.17,-0.3),(6.19,0.0),(6.21,-0.2),(6.23,-0.1),(6.26,-0.3),(6.28,0.0),(6.30,-0.4),(6.32,-0.05),(6.34,-0.35),
(6.36,0.1),(6.38,-0.3),(6.40,0.05),(6.42,-0.35),(6.44,0.15),(6.46,-0.25),(6.48,0.1),(6.50,-0.4),(6.52,0.0),(6.54,-0.3),
(6.56,0.1),(6.58,-0.2),(6.60,0.9),(6.61,0.3),(6.63,0.0),(6.65,0.4),(6.67,0.2),(6.70,0.3),(6.72,0.1),(6.74,0.25),
(6.76,0.15),(6.78,0.1),(6.80,0.15),(6.82,0.1),(6.84,0.12),(6.86,0.1),(6.88,0.15),(6.90,0.1),(6.92,0.2),(6.94,0.05),
(6.96,0.15),(6.98,0.0),(7.00,0.2),(7.01,-0.3),(7.02,0.3),(7.03,-0.5),(7.04,0.8),(7.05,-1.0),(7.06,1.2),(7.07,-0.4),
(7.08,-2.3),(7.09,0.1)]

B_ACT_START = [0.218, 1.17, 1.89, 2.66, 4.50, 4.94, 5.57, 6.24, 6.88]
B_ACT_END   = [0.875, 1.68, 2.47, 2.98, 4.67, 5.44, 6.01, 6.59, 7.01]
B_ACT_LABEL = ["Elevation", "Pull-Down", "Row", "Rotation", "Rotation", "Elevation", "Pull-Down", "Row", "Rotation"]

SERIES_NAMES = ["Acc-x", "Acc-y", "Acc-z"]
A_LEGEND_ITEMS = ["Elevation", "Press-up", "Rotation", "Row", "Non-Activity"]
B_LEGEND_ITEMS = ["Elevation", "Pull-Down", "Rotation", "Row", "Non-Activity"]

A_XTICKS = [0, 2, 4, 6, 8]
A_XTICKTEXT = ["0.0", "2.0", "4.0", "6.0", "8.0"]
A_YTICKS = [-3, -2, -1, 0, 1, 2, 3, 4, 5]
A_YTICKTEXT = ["-3.0", "-2.0", "-1.0", "0.0", "1.0", "2.0", "3.0", "4.0", "5.0"]
A_RIGHT_TICKS = [3.77, 2.05, 0.34, -1.39]
B_XTICKS = [0, 2, 4, 6]
B_XTICKTEXT = ["0.0", "2.0", "4.0", "6.0"]
B_YTICKS = [-4, -3, -2, -1, 0, 1, 2, 3]
B_YTICKTEXT = ["-4.0", "-3.0", "-2.0", "-1.0", "0.0", "1.0", "2.0", "3.0"]
B_RIGHT_TICKS = [1.56, 0.03, -1.47, -3.0]

# ---------------- styling ----------------
LINE_COLORS = ["#c8322a", "#2f8f2f", "#3d8fe2"]
LEGEND_LINE_COLORS = ["#c0504d", "#3e9a3e", "#2b2f96"]
ACT_COLORS = {"Elevation": "#fde8d7", "Press-up": "#dfe1ec", "Rotation": "#dfe0d8",
              "Row": "#d5fbf9", "Pull-Down": "#fdd6d6", "Non-Activity": "#ffffff"}
TICK_FONT = dict(family="Open Sans", size=45, color="#111111")
TITLE_FONT = dict(family="Open Sans", size=47, color="#111111")


def pxx(x):
    # screen pixel -> paper fraction
    return (x - OFF) / FW


def pyy(y):
    return 1 - (y - OFF) / FH


fig = go.Figure()

panels = [("x", "y", A_X, A_Y, A_Z), ("x2", "y2", B_X, B_Y, B_Z)]
for xa, ya, sx, sy, sz in panels:
    for series, col, name in [(sz, LINE_COLORS[2], SERIES_NAMES[2]),
                              (sy, LINE_COLORS[1], SERIES_NAMES[1]),
                              (sx, LINE_COLORS[0], SERIES_NAMES[0])]:
        fig.add_trace(go.Scatter(x=[p[0] for p in series], y=[p[1] for p in series], mode="lines",
                                 name=name, line=dict(color=col, width=1.5), xaxis=xa, yaxis=ya,
                                 showlegend=False))

# empty traces so the twin right axes render
fig.add_trace(go.Scatter(x=[None], y=[None], xaxis="x", yaxis="y3", showlegend=False))
fig.add_trace(go.Scatter(x=[None], y=[None], xaxis="x2", yaxis="y4", showlegend=False))

# activity shading
for starts, ends, labels, xref, yref in [(A_ACT_START, A_ACT_END, A_ACT_LABEL, "x", "y domain"),
                                         (B_ACT_START, B_ACT_END, B_ACT_LABEL, "x2", "y2 domain")]:
    for s, e, lab in zip(starts, ends, labels):
        fig.add_shape(type="rect", xref=xref, yref=yref, x0=s, x1=e, y0=0, y1=1,
                      fillcolor=ACT_COLORS[lab], line=dict(width=0), layer="below")


def prect(x0, y0, x1, y1, **kw):
    fig.add_shape(type="rect", xref="paper", yref="paper", x0=pxx(x0), x1=pxx(x1),
                  y0=pyy(y1), y1=pyy(y0), layer="above", **kw)


def ptext(x, y, text, size, family="Open Sans", anchor="left", bold=False, yanchor="middle"):
    fig.add_annotation(xref="paper", yref="paper", x=pxx(x), y=pyy(y), text=("<b>%s</b>" % text) if bold else text,
                       showarrow=False, xanchor=anchor, yanchor=yanchor,
                       font=dict(family=family, size=size, color="#111111"))


# line legends (inside the panels)
for box, samp_x, samp_ys, text_x in [((237, 51, 514, 254), (267, 349), (96, 151, 207), 381),
                                     ((231, 1183, 502, 1380), (260, 341), (1226, 1281, 1336), 371)]:
    x0, y0, x1, y1 = box
    prect(x0 + 5, y0 + 5, x1 + 5, y1 + 5, fillcolor="#a0a0a0", line=dict(width=0))
    prect(x0, y0, x1, y1, fillcolor="white", line=dict(color="#555555", width=2))
    for i, name in enumerate(SERIES_NAMES):
        yy = samp_ys[i]
        fig.add_shape(type="line", xref="paper", yref="paper", x0=pxx(samp_x[0]), x1=pxx(samp_x[1]),
                      y0=pyy(yy), y1=pyy(yy), line=dict(color=LEGEND_LINE_COLORS[i], width=2), layer="above")
        ptext(text_x, yy, name, 42)

# activity legends (below the panels)
for box, items, swatches, text_xs, yc, fsize in [
        ((14, 1004, 1988, 1080), A_LEGEND_ITEMS, [(28, 119), (453, 540), (858, 948), (1262, 1350), None],
         [156, 576, 986, 1388, 1696], 1040, 44),
        ((150, 2123, 1943, 2188), B_LEGEND_ITEMS, [(164, 245), (541, 621), (932, 1012), (1294, 1374), None],
         [276, 653, 1044, 1406, 1682], 2156, 39)]:
    x0, y0, x1, y1 = box
    prect(x0 + 2, y0 + 2, x1 + 2, y1 + 2, fillcolor="#e4e4e4", line=dict(width=0))
    prect(x0, y0, x1, y1, fillcolor="white", line=dict(color="#d0d0d0", width=2))
    for lab, sw, tx in zip(items, swatches, text_xs):
        if sw is not None:
            prect(sw[0], yc - 15, sw[1], yc + 15, fillcolor=ACT_COLORS[lab], line=dict(width=0))
        ptext(tx, yc, lab, fsize, family="DejaVu Sans")

# panel letters
ptext(72, 9, "a", 42, family="Liberation Sans", anchor="center", bold=True, yanchor="top")
ptext(78, 1197, "b", 44, family="Liberation Sans", anchor="center", bold=True)

common_axis = dict(showline=True, linecolor="#111111", linewidth=2, mirror=True, ticks="outside",
                   ticklen=8, tickwidth=2, tickcolor="#111111", showgrid=False, zeroline=False,
                   tickfont=TICK_FONT, automargin=False)

fig.update_layout(
    template="none",
    width=FW, height=FH, autosize=False,
    margin=dict(l=0, r=0, t=0, b=0, pad=0),
    paper_bgcolor="white", plot_bgcolor="white",
    showlegend=False,
    xaxis=dict(domain=[pxx(220), pxx(1963)], range=[0, 8.48], anchor="y",
               tickmode="array", tickvals=A_XTICKS, ticktext=A_XTICKTEXT, ticklabelstandoff=-8,
               title=dict(text="Time (min)", font=TITLE_FONT, standoff=30), **common_axis),
    yaxis=dict(domain=[pyy(820), pyy(31)], range=[-3.11, 5.54], anchor="x",
               tickmode="array", tickvals=A_YTICKS, ticktext=A_YTICKTEXT,
               title=dict(text="Accelerometer (G)", font=TITLE_FONT, standoff=18), **common_axis),
    yaxis3=dict(overlaying="y", anchor="x", side="right", range=[-3.11, 5.54], tickmode="array",
                tickvals=A_RIGHT_TICKS, ticks="inside", ticklen=8, tickwidth=2, tickcolor="#333333",
                showticklabels=False, showgrid=False, zeroline=False, showline=False, automargin=False),
    xaxis2=dict(domain=[pxx(219), pxx(1998)], range=[0, 7.09], anchor="y2",
                tickmode="array", tickvals=B_XTICKS, ticktext=B_XTICKTEXT, ticklabelstandoff=-6,
                title=dict(text="Time (min)", font=TITLE_FONT, standoff=10), **common_axis),
    yaxis2=dict(domain=[pyy(1966), pyy(1171)], range=[-4.5, 3.11], anchor="x2",
                tickmode="array", tickvals=B_YTICKS, ticktext=B_YTICKTEXT,
                title=dict(text="Accelerometer (G)", font=TITLE_FONT, standoff=18), **common_axis),
    yaxis4=dict(overlaying="y2", anchor="x2", side="right", range=[-4.5, 3.11], tickmode="array",
                tickvals=B_RIGHT_TICKS, ticks="inside", ticklen=8, tickwidth=2, tickcolor="#333333",
                showticklabels=False, showgrid=False, zeroline=False, showline=False, automargin=False),
)

fig.write_html("out.html")
